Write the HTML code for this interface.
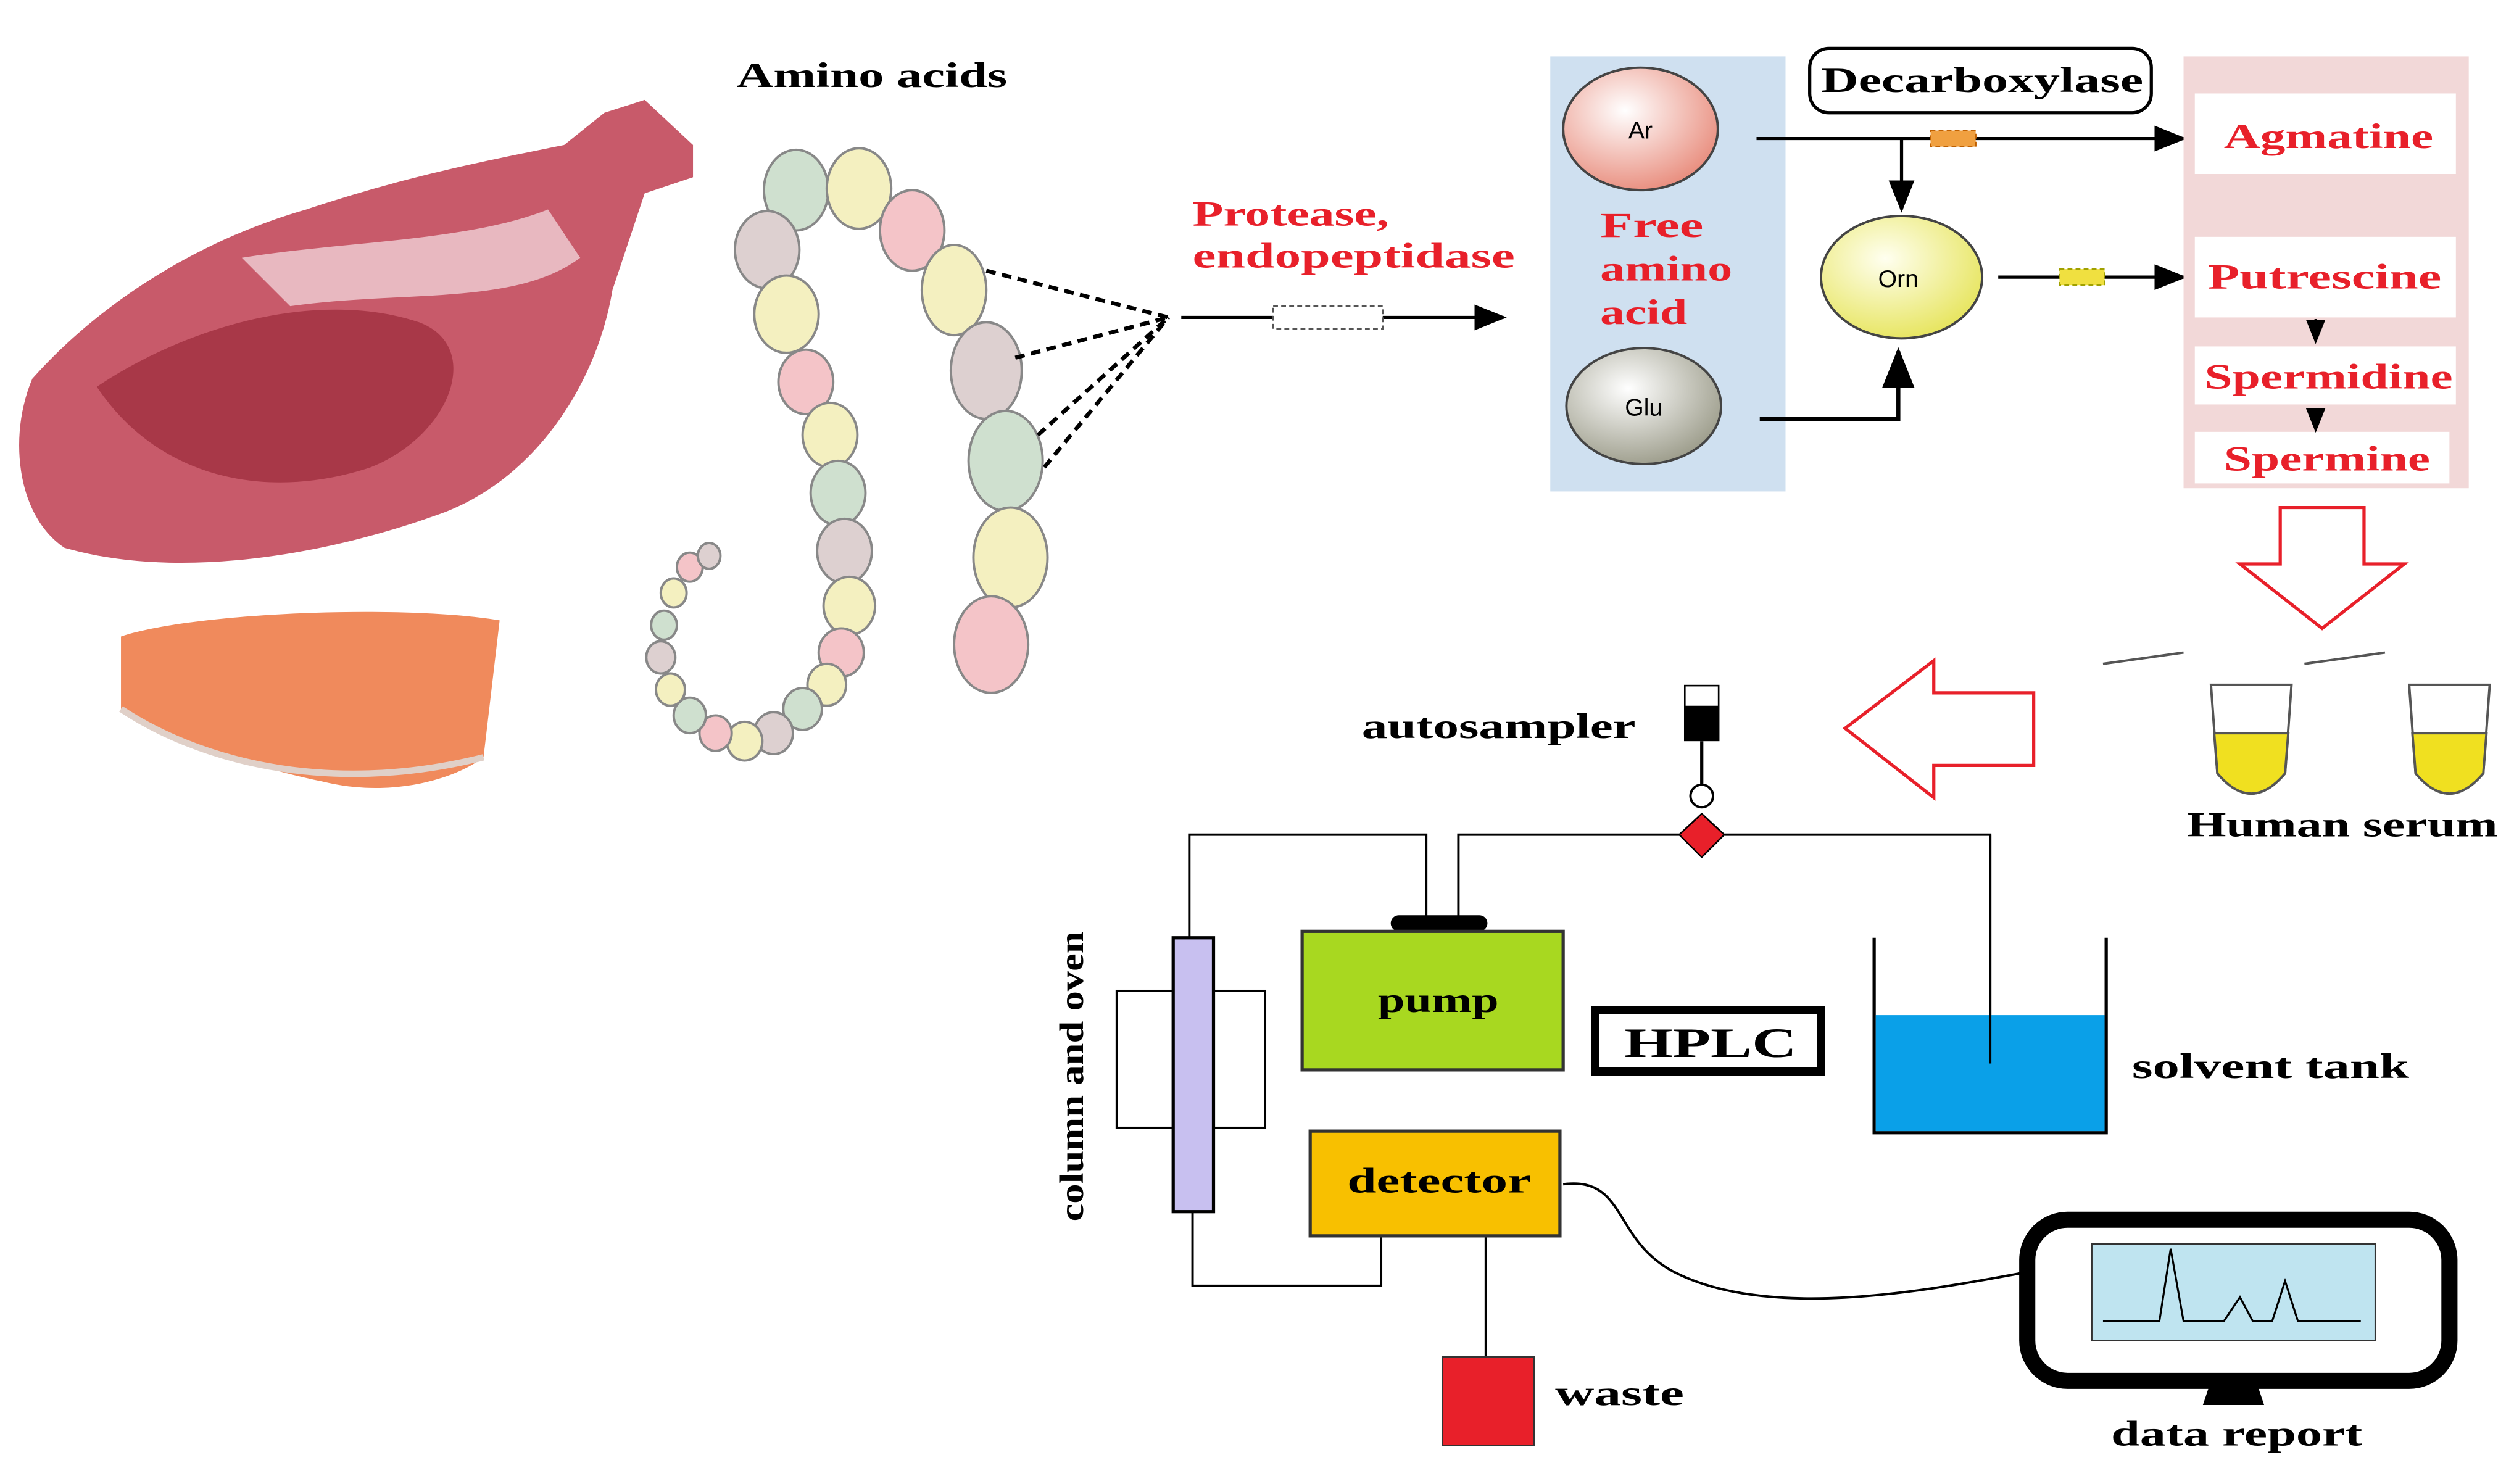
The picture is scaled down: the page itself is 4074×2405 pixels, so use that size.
<!DOCTYPE html>
<html><head><meta charset="utf-8"><style>
html,body{margin:0;padding:0;background:#fff;}
svg{display:block;}
text{font-family:"Liberation Serif",serif;font-weight:bold;}
</style></head><body>
<svg width="4074" height="2405" viewBox="0 0 1560 921" xmlns="http://www.w3.org/2000/svg">
<defs>
<marker id="ah" markerWidth="10" markerHeight="8" refX="9" refY="4" orient="auto"><path d="M0,0 L10,4 L0,8 z" fill="#000"/></marker>
<radialGradient id="gr" cx="0.4" cy="0.35" r="0.7"><stop offset="0" stop-color="#fff"/><stop offset="1" stop-color="#e88a7a"/></radialGradient>
<radialGradient id="gg" cx="0.4" cy="0.35" r="0.7"><stop offset="0" stop-color="#fff"/><stop offset="1" stop-color="#9a9a88"/></radialGradient>
<radialGradient id="gy" cx="0.4" cy="0.35" r="0.7"><stop offset="0" stop-color="#fffff0"/><stop offset="1" stop-color="#e6e45a"/></radialGradient>
</defs>
<rect width="1560" height="921" fill="#fff"/>
<!-- meat -->
<path d="M20,235 C60,190 120,150 190,130 C250,110 300,100 350,90 L375,70 L400,62 L430,90 L430,110 L400,120 L380,180 C370,240 330,300 270,320 C200,345 110,360 40,340 C10,320 5,270 20,235 z" fill="#c85a6a"/>
<path d="M60,240 C120,200 200,180 260,200 C300,215 280,270 230,290 C170,310 100,300 60,240 z" fill="#a83848"/>
<path d="M150,160 C210,150 290,150 340,130 L360,160 C320,190 250,180 180,190 z" fill="#e8b8c0"/>
<!-- salmon -->
<path d="M75,395 C120,380 250,375 310,385 L300,470 C280,485 240,495 200,485 C150,475 100,455 75,440 z" fill="#f08a5c"/>
<path d="M75,440 C120,470 200,495 300,470" stroke="#e0d0c8" stroke-width="4" fill="none"/>
<text x="457" y="54" font-size="22" textLength="168" lengthAdjust="spacingAndGlyphs">Amino acids</text>
<!-- beads -->
<g stroke="#888" stroke-width="1.5">
<ellipse cx="494" cy="118" rx="20" ry="25" fill="#cfe0cf"/>
<ellipse cx="533" cy="117" rx="20" ry="25" fill="#f4f0c0"/>
<ellipse cx="566" cy="143" rx="20" ry="25" fill="#f4c4c8"/>
<ellipse cx="592" cy="180" rx="20" ry="28" fill="#f4f0c0"/>
<ellipse cx="612" cy="230" rx="22" ry="30" fill="#ddd0d0"/>
<ellipse cx="624" cy="286" rx="23" ry="31" fill="#cfe0cf"/>
<ellipse cx="627" cy="346" rx="23" ry="31" fill="#f4f0c0"/>
<ellipse cx="615" cy="400" rx="23" ry="30" fill="#f4c4c8"/>
<ellipse cx="476" cy="155" rx="20" ry="24" fill="#ddd0d0"/>
<ellipse cx="488" cy="195" rx="20" ry="24" fill="#f4f0c0"/>
<ellipse cx="500" cy="237" rx="17" ry="20" fill="#f4c4c8"/>
<ellipse cx="515" cy="270" rx="17" ry="20" fill="#f4f0c0"/>
<ellipse cx="520" cy="306" rx="17" ry="20" fill="#cfe0cf"/>
<ellipse cx="524" cy="342" rx="17" ry="20" fill="#ddd0d0"/>
<ellipse cx="527" cy="376" rx="16" ry="18" fill="#f4f0c0"/>
<ellipse cx="522" cy="405" rx="14" ry="15" fill="#f4c4c8"/>
<ellipse cx="513" cy="425" rx="12" ry="13" fill="#f4f0c0"/>
<ellipse cx="498" cy="440" rx="12" ry="13" fill="#cfe0cf"/>
<ellipse cx="480" cy="455" rx="12" ry="13" fill="#ddd0d0"/>
<ellipse cx="462" cy="460" rx="11" ry="12" fill="#f4f0c0"/>
<ellipse cx="444" cy="455" rx="10" ry="11" fill="#f4c4c8"/>
<ellipse cx="428" cy="444" rx="10" ry="11" fill="#cfe0cf"/>
<ellipse cx="416" cy="428" rx="9" ry="10" fill="#f4f0c0"/>
<ellipse cx="410" cy="408" rx="9" ry="10" fill="#ddd0d0"/>
<ellipse cx="412" cy="388" rx="8" ry="9" fill="#cfe0cf"/>
<ellipse cx="418" cy="368" rx="8" ry="9" fill="#f4f0c0"/>
<ellipse cx="428" cy="352" rx="8" ry="9" fill="#f4c4c8"/>
<ellipse cx="440" cy="345" rx="7" ry="8" fill="#ddd0d0"/>
</g>
<g stroke="#000" stroke-width="2.5" stroke-dasharray="6,4">
<line x1="612" y1="168" x2="725" y2="197"/><line x1="630" y1="222" x2="725" y2="197"/>
<line x1="644" y1="270" x2="725" y2="197"/><line x1="648" y1="290" x2="725" y2="197"/>
</g>
<line x1="733" y1="197" x2="933" y2="197" stroke="#000" stroke-width="2" marker-end="url(#ah)"/>
<rect x="790" y="190" width="68" height="14" fill="#fff" stroke="#555" stroke-dasharray="3,2"/>
<text x="740" y="140" font-size="22" fill="#e8202a" textLength="122" lengthAdjust="spacingAndGlyphs">Protease,</text>
<text x="740" y="166" font-size="22" fill="#e8202a" textLength="200" lengthAdjust="spacingAndGlyphs">endopeptidase</text>
<!-- blue panel -->
<rect x="962" y="35" width="146" height="270" fill="#cfe0f0"/>
<ellipse cx="1018" cy="80" rx="48" ry="38" fill="url(#gr)" stroke="#444" stroke-width="1.5"/>
<text x="1018" y="86" font-size="15" text-anchor="middle" style="font-family:'Liberation Sans';font-weight:normal">Ar</text>
<ellipse cx="1020" cy="252" rx="48" ry="36" fill="url(#gg)" stroke="#444" stroke-width="1.5"/>
<text x="1020" y="258" font-size="15" text-anchor="middle" style="font-family:'Liberation Sans';font-weight:normal">Glu</text>
<text x="993" y="147" font-size="22" fill="#e8202a" textLength="64" lengthAdjust="spacingAndGlyphs">Free</text>
<text x="993" y="174" font-size="22" fill="#e8202a" textLength="82" lengthAdjust="spacingAndGlyphs">amino</text>
<text x="993" y="201" font-size="22" fill="#e8202a" textLength="54" lengthAdjust="spacingAndGlyphs">acid</text>
<ellipse cx="1180" cy="172" rx="50" ry="38" fill="url(#gy)" stroke="#444" stroke-width="1.5"/>
<text x="1178" y="178" font-size="15" text-anchor="middle" style="font-family:'Liberation Sans';font-weight:normal">Orn</text>
<rect x="1123" y="30" width="212" height="40" rx="12" fill="#fff" stroke="#000" stroke-width="2"/>
<text x="1130" y="57" font-size="22" textLength="200" lengthAdjust="spacingAndGlyphs">Decarboxylase</text>
<line x1="1090" y1="86" x2="1355" y2="86" stroke="#000" stroke-width="2" marker-end="url(#ah)"/>
<rect x="1198" y="81" width="28" height="10" fill="#f0a040" stroke="#c06000" stroke-dasharray="3,2"/>
<line x1="1180" y1="86" x2="1180" y2="130" stroke="#000" stroke-width="2" marker-end="url(#ah)"/>
<path d="M1092,260 L1178,260 L1178,218" stroke="#000" stroke-width="2.5" fill="none" marker-end="url(#ah)"/>
<line x1="1240" y1="172" x2="1355" y2="172" stroke="#000" stroke-width="2" marker-end="url(#ah)"/>
<rect x="1278" y="167" width="28" height="10" fill="#f0e040" stroke="#a0a000" stroke-dasharray="3,2"/>
<!-- pink panel -->
<rect x="1355" y="35" width="177" height="268" fill="#f2d8d8"/>
<rect x="1362" y="58" width="162" height="50" fill="#fff"/>
<rect x="1362" y="147" width="162" height="50" fill="#fff"/>
<rect x="1362" y="215" width="162" height="36" fill="#fff"/>
<rect x="1362" y="268" width="158" height="32" fill="#fff"/>
<g font-size="22" fill="#e8202a">
<text x="1380" y="92" textLength="130" lengthAdjust="spacingAndGlyphs">Agmatine</text>
<text x="1370" y="179" textLength="145" lengthAdjust="spacingAndGlyphs">Putrescine</text>
<text x="1368" y="241" textLength="154" lengthAdjust="spacingAndGlyphs">Spermidine</text>
<text x="1380" y="292" textLength="128" lengthAdjust="spacingAndGlyphs">Spermine</text></g>
<line x1="1437" y1="198" x2="1437" y2="212" stroke="#000" stroke-width="1.5" stroke-dasharray="2,2" marker-end="url(#ah)"/>
<line x1="1437" y1="254" x2="1437" y2="267" stroke="#000" stroke-width="1.5" stroke-dasharray="2,2" marker-end="url(#ah)"/>
<!-- down arrow -->
<path d="M1415,315 L1467,315 L1467,350 L1492,350 L1441,390 L1390,350 L1415,350 z" fill="#fff" stroke="#e8202a" stroke-width="2"/>
<!-- left arrow -->
<path d="M1262,430 L1200,430 L1200,410 L1145,452 L1200,495 L1200,475 L1262,475 z" fill="#fff" stroke="#e8202a" stroke-width="2"/>
<!-- tubes -->
<g stroke="#555" stroke-width="1.5">
<path d="M1372,425 L1422,425 L1418,480 Q1397,505 1376,480 z" fill="#fff"/>
<path d="M1374,455 L1420,455 L1418,480 Q1397,505 1376,480 z" fill="#f0e020"/>
<path d="M1495,425 L1545,425 L1541,480 Q1520,505 1499,480 z" fill="#fff"/>
<path d="M1497,455 L1543,455 L1541,480 Q1520,505 1499,480 z" fill="#f0e020"/>
<line x1="1305" y1="412" x2="1355" y2="405"/><line x1="1430" y1="412" x2="1480" y2="405"/>
</g>
<text x="1357" y="519" font-size="22" textLength="193" lengthAdjust="spacingAndGlyphs">Human serum</text>
<!-- HPLC -->
<text x="845" y="458" font-size="22" textLength="170" lengthAdjust="spacingAndGlyphs">autosampler</text>
<rect x="1045" y="425" width="22" height="35" fill="#000"/>
<rect x="1046" y="426" width="20" height="12" fill="#fff"/>
<line x1="1056" y1="460" x2="1056" y2="488" stroke="#000" stroke-width="2"/>
<circle cx="1056" cy="494" r="7" fill="#fff" stroke="#000" stroke-width="1.5"/>
<path d="M1056,505 L1070,518 L1056,532 L1042,518 z" fill="#e8202a" stroke="#000"/>
<g stroke="#000" stroke-width="1.5" fill="none">
<path d="M738,582 L738,518 L885,518 L885,572"/>
<path d="M905,572 L905,518 L1042,518"/><path d="M1070,518 L1235,518 L1235,660"/>
<path d="M740,752 L740,798 L857,798 L857,768"/>
<path d="M922,768 L922,842"/>
<path d="M970,735 C1010,730 1000,770 1040,790 C1100,820 1200,800 1255,790"/>
</g>
<rect x="863" y="568" width="60" height="10" rx="5" fill="#000"/>
<rect x="808" y="578" width="162" height="86" fill="#a8d820" stroke="#333" stroke-width="2"/>
<text x="855" y="628" font-size="22" textLength="75" lengthAdjust="spacingAndGlyphs">pump</text>
<rect x="990" y="627" width="140" height="38" fill="#fff" stroke="#000" stroke-width="5"/>
<text x="1008" y="656" font-size="26" textLength="107" lengthAdjust="spacingAndGlyphs">HPLC</text>
<path d="M1163,582 L1163,703 L1307,703 L1307,582" fill="none" stroke="#000" stroke-width="2"/>
<rect x="1164" y="630" width="142" height="72" fill="#0aa0e8"/>
<line x1="1235" y1="518" x2="1235" y2="660" stroke="#000" stroke-width="1.5"/>
<text x="1323" y="669" font-size="22" textLength="172" lengthAdjust="spacingAndGlyphs">solvent tank</text>
<rect x="693" y="615" width="92" height="85" fill="#fff" stroke="#000" stroke-width="1.5"/>
<rect x="728" y="582" width="25" height="170" fill="#c8c0f0" stroke="#000" stroke-width="2"/>
<text transform="translate(672,758) rotate(-90)" font-size="21" textLength="180" lengthAdjust="spacingAndGlyphs">column and oven</text>
<rect x="813" y="702" width="155" height="65" fill="#f8c000" stroke="#333" stroke-width="2"/>
<text x="836" y="740" font-size="22" textLength="114" lengthAdjust="spacingAndGlyphs">detector</text>
<rect x="895" y="842" width="57" height="55" fill="#e8202a" stroke="#333"/>
<text x="965" y="872" font-size="22" textLength="80" lengthAdjust="spacingAndGlyphs">waste</text>
<rect x="1258" y="757" width="262" height="100" rx="25" fill="#fff" stroke="#000" stroke-width="10"/>
<rect x="1298" y="772" width="176" height="60" fill="#bfe4f0" stroke="#333"/>
<path d="M1305,820 L1340,820 L1347,775 L1355,820 L1380,820 L1390,805 L1398,820 L1410,820 L1418,795 L1426,820 L1465,820" fill="none" stroke="#000" stroke-width="1.2"/>
<path d="M1372,857 L1400,857 L1405,872 L1367,872 z" fill="#000"/>
<text x="1310" y="897" font-size="22" textLength="156" lengthAdjust="spacingAndGlyphs">data report</text>
</svg>
</body></html>
